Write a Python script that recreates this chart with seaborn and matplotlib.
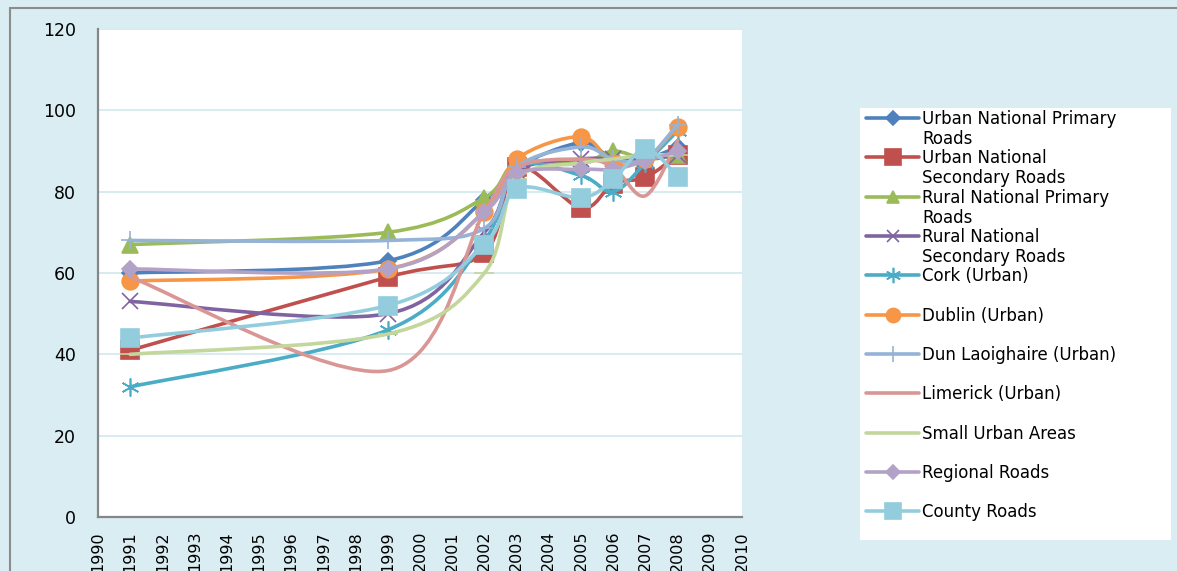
import numpy as np
import matplotlib
matplotlib.use("Agg")
import matplotlib.pyplot as plt
from matplotlib.path import Path
from matplotlib.patches import PathPatch, Rectangle
from matplotlib.lines import Line2D
import seaborn as sns

# Values (percent, by survey year)
years = [1991, 1999, 2002, 2003, 2005, 2006, 2007, 2008]

urban_np = [60, 63, 78, 86, 92, 88, 88, 91]
urban_ns = [41, 59, 65, 86, 76, 82, 83.5, 89]
rural_np = [67, 70, 78.5, 87, 87, 90, 88, 89]
rural_ns = [53, 50, 70, 85, 88, 88, 88, 89]
cork = [32, 46, 68, 86, 84, 80, 87, 95]
dublin = [58, 61, 75, 88, 93.5, 87, 88, 96]
dun_laoghaire = [68, 68, 71, 86, 91, 88, 88, 96.5]
limerick = [59, 36, 75, 86, 88, 86, 79, 92.5]
small_urban = [40, 45, 60, 83, 87, 88, 89, 89]
regional = [61, 61, 75, 84.5, 85.5, 85.5, 87.5, 90]
county = [44, 52, 67, 80.7, 78.5, 83, 90.5, 83.7]

names = [
    ("Urban National Primary", "Roads"),
    ("Urban National", "Secondary Roads"),
    ("Rural National Primary", "Roads"),
    ("Rural National", "Secondary Roads"),
    ("Cork (Urban)", ""),
    ("Dublin (Urban)", ""),
    ("Dun Laoighaire (Urban)", ""),
    ("Limerick (Urban)", ""),
    ("Small Urban Areas", ""),
    ("Regional Roads", ""),
    ("County Roads", ""),
]
values = [urban_np, urban_ns, rural_np, rural_ns, cork, dublin,
          dun_laoghaire, limerick, small_urban, regional, county]
colors = ["#4F81BD", "#C0504D", "#9BBB59", "#8064A2", "#4BACC6", "#F79646",
          "#95B3D7", "#D99694", "#C3D69B", "#B3A2C7", "#93CDDD"]
markers = ["D", "s", "^", "x", (6, 2, 0), "o", "+", None, "_", "D", "s"]
msizes = [8, 13, 11, 11, 13, 12, 13, 0, 14, 8, 13]

bg = "#DAEDF3"
grid_col = "#CFE7EF"
axis_col = "#868686"
legend_fs = 12


def smooth_path(xs, ys):
    # Excel-style smoothed line: cubic bezier through the points
    pts = np.column_stack([xs, ys]).astype(float)
    n = len(pts)
    verts = [pts[0]]
    codes = [Path.MOVETO]
    for i in range(n - 1):
        p0 = pts[max(i - 1, 0)]
        p1 = pts[i]
        p2 = pts[i + 1]
        p3 = pts[min(i + 2, n - 1)]
        verts += [p1 + (p2 - p0) / 6.0, p2 - (p3 - p1) / 6.0, p2]
        codes += [Path.CURVE4] * 3
    return Path(verts, codes)


sns.set_style("white")
plt.rcParams["font.family"] = ["DejaVu Sans"]
plt.rcParams["text.color"] = "black"

W, H = 1177, 571
fig = plt.figure(figsize=(W / 100, H / 100), dpi=100, facecolor=bg)
ax = fig.add_axes([98 / W, 1 - 517 / H, (742 - 98) / W, (517 - 29) / H])
ax.set_facecolor("white")

for i, (vals, c, m, ms) in enumerate(zip(values, colors, markers, msizes)):
    z = 3 + i * 0.1
    ax.add_patch(PathPatch(smooth_path(years, vals), facecolor="none",
                           edgecolor=c, lw=2.6, zorder=z, capstyle="round",
                           joinstyle="round"))
    if m is not None:
        sns.lineplot(x=years, y=vals, ax=ax, color=c, marker=m, markersize=ms,
                     linestyle="", markeredgecolor=c, markeredgewidth=1.2,
                     zorder=z + 0.05, legend=False)

ax.set_xlim(1990, 2010)
ax.set_ylim(0, 120)
ax.set_xticks(range(1990, 2011))
ax.set_xticklabels([str(y) for y in range(1990, 2011)], rotation=90)
ax.set_yticks(range(0, 121, 20))
ax.set_xlabel("")
ax.set_ylabel("")
for yv in range(20, 121, 20):
    ax.axhline(yv, color=grid_col, lw=1.2, zorder=1)

for s in ["top", "right"]:
    ax.spines[s].set_visible(False)
for s in ["left", "bottom"]:
    ax.spines[s].set_color(axis_col)
    ax.spines[s].set_linewidth(1.6)
ax.tick_params(axis="both", direction="out", length=6, width=1.2,
               color=axis_col, labelcolor="black")
ax.tick_params(axis="y", pad=10, labelsize=12.5)
ax.tick_params(axis="x", pad=4, labelsize=11.5)

# outer chart border (top and left)
fig.add_artist(Line2D([10 / W, 1.01], [1 - 8 / H, 1 - 8 / H], color="#8C8C8C",
                      lw=1.5, transform=fig.transFigure))
fig.add_artist(Line2D([10 / W, 10 / W], [-0.01, 1 - 8 / H], color="#8C8C8C",
                      lw=1.5, transform=fig.transFigure))

# white legend panel
fig.add_artist(Rectangle((860 / W, 1 - 540 / H), (1171 - 860) / W,
                         (540 - 108) / H, transform=fig.transFigure,
                         facecolor="white", edgecolor="none", zorder=1))

handles = []
for c, m, ms in zip(colors, markers, msizes):
    handles.append(Line2D([], [], color=c, lw=2.6, marker=m if m else "",
                          markersize=ms * 0.85, markeredgecolor=c,
                          markeredgewidth=1.2))
leg = fig.legend(handles, [n[0] for n in names], loc="upper left",
                 bbox_to_anchor=(866 / W, 1 - 110 / H), frameon=False,
                 fontsize=legend_fs, labelspacing=1.28, labelcolor="black",
                 handlelength=3.2, handletextpad=0.18, borderpad=0,
                 borderaxespad=0, numpoints=1)
leg.set_zorder(5)

fig.canvas.draw()
renderer = fig.canvas.get_renderer()
for txt, (first, second) in zip(leg.get_texts(), names):
    if second:
        bb = txt.get_window_extent(renderer)
        fig.text(bb.x0 / W, (bb.y0 + bb.height / 2 - 20) / H, second,
                 fontsize=legend_fs, va="center", ha="left", zorder=10,
                 color="black")

fig.savefig("out.png", dpi=100, facecolor=bg)
